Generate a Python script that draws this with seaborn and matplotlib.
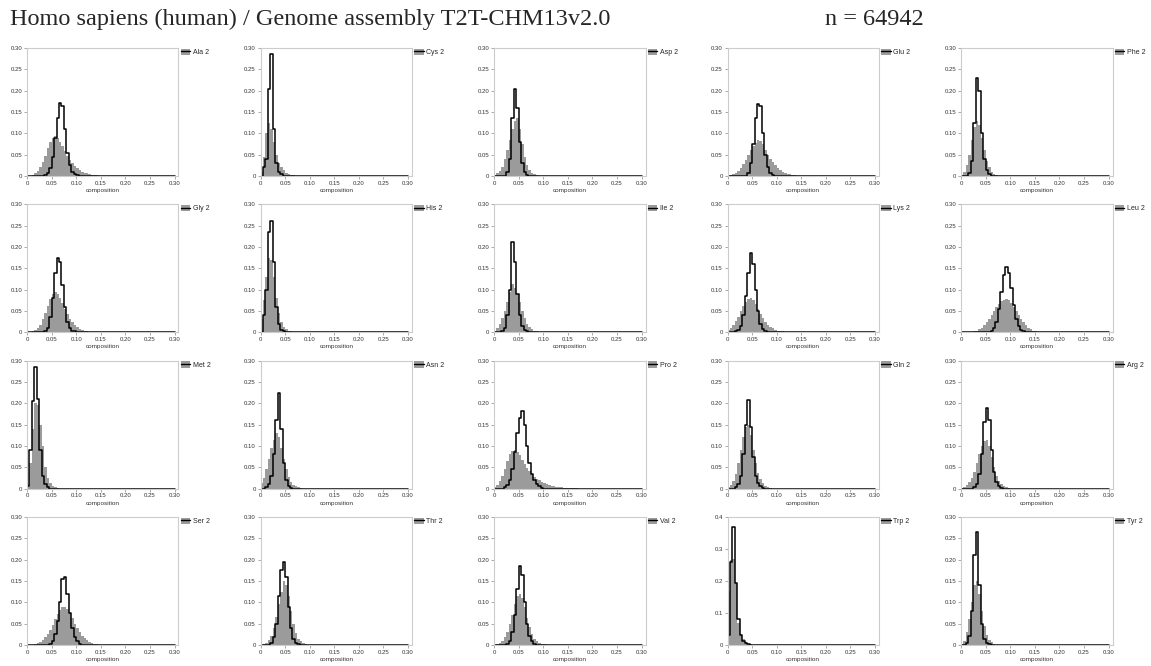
import numpy as np
import pandas as pd
import seaborn as sns
import matplotlib.pyplot as plt
from matplotlib.patches import Patch
from matplotlib.lines import Line2D
from matplotlib.ticker import FuncFormatter

# residue panels, row by row
residues = ["Ala", "Cys", "Asp", "Glu", "Phe",
            "Gly", "His", "Ile", "Lys", "Leu",
            "Met", "Asn", "Pro", "Gln", "Arg",
            "Ser", "Thr", "Val", "Trp", "Tyr"]
bin_width = 0.005

# per-bin fractions (grey = filled, black = outline), bins start at 0
ala_grey = [0, 0.001, 0.003, 0.006, 0.012, 0.02, 0.032, 0.047, 0.065, 0.08, 0.09, 0.093, 0.088, 0.08, 0.07,
            0.058, 0.047, 0.037, 0.03, 0.024, 0.018, 0.014, 0.01, 0.008, 0.006, 0.004, 0.003, 0.002, 0.0015, 0.001, 0.001]
ala_black = [0] * 7 + [0.002, 0.006, 0.018, 0.045, 0.09, 0.135, 0.17, 0.165, 0.11, 0.055, 0.025, 0.01, 0.004, 0.002]
cys_grey = [0.01, 0.045, 0.1, 0.125, 0.11, 0.08, 0.05, 0.03, 0.02, 0.013, 0.008, 0.005, 0.003, 0.002, 0.001]
cys_black = [0, 0.02, 0.04, 0.205, 0.285, 0.11, 0.03, 0.01, 0.004, 0.001]
asp_grey = [0.003, 0.006, 0.012, 0.022, 0.04, 0.06, 0.085, 0.11, 0.13, 0.135, 0.11, 0.075, 0.045, 0.025, 0.013,
            0.007, 0.004, 0.002]
asp_black = [0] * 5 + [0.01, 0.04, 0.135, 0.205, 0.16, 0.08, 0.03, 0.01, 0.003]
glu_grey = [0, 0.002, 0.004, 0.007, 0.012, 0.018, 0.027, 0.037, 0.05, 0.06, 0.07, 0.078, 0.085, 0.083, 0.075,
            0.062, 0.05, 0.04, 0.032, 0.025, 0.019, 0.014, 0.01, 0.007, 0.005, 0.004, 0.003, 0.002, 0.001]
glu_black = [0] * 8 + [0.008, 0.03, 0.075, 0.135, 0.168, 0.165, 0.1, 0.05, 0.02, 0.008, 0.003]
phe_grey = [0.003, 0.01, 0.025, 0.05, 0.085, 0.115, 0.13, 0.12, 0.09, 0.06, 0.035, 0.02, 0.01, 0.005, 0.002]
phe_black = [0, 0, 0, 0.008, 0.035, 0.125, 0.23, 0.2, 0.1, 0.04, 0.013, 0.004]

gly_grey = [0, 0, 0.002, 0.005, 0.01, 0.018, 0.03, 0.045, 0.062, 0.078, 0.09, 0.095, 0.09, 0.08, 0.068, 0.055,
            0.042, 0.032, 0.024, 0.017, 0.012, 0.008, 0.005, 0.003, 0.002]
gly_black = [0] * 7 + [0.003, 0.01, 0.035, 0.08, 0.14, 0.175, 0.165, 0.11, 0.06, 0.025, 0.01, 0.004, 0.002]
his_grey = [0.03, 0.075, 0.13, 0.175, 0.17, 0.13, 0.08, 0.045, 0.025, 0.013, 0.007, 0.004, 0.002]
his_black = [0, 0.04, 0.1, 0.235, 0.26, 0.165, 0.06, 0.02, 0.006, 0.002]
ile_grey = [0.003, 0.01, 0.02, 0.033, 0.05, 0.07, 0.095, 0.113, 0.105, 0.09, 0.07, 0.05, 0.033, 0.02, 0.012,
            0.007, 0.004, 0.002]
ile_black = [0, 0, 0, 0.003, 0.01, 0.04, 0.1, 0.212, 0.165, 0.09, 0.04, 0.015, 0.005, 0.002]
lys_grey = [0.005, 0.01, 0.017, 0.026, 0.037, 0.05, 0.062, 0.072, 0.079, 0.08, 0.075, 0.066, 0.055, 0.044,
            0.034, 0.025, 0.018, 0.013, 0.009, 0.006, 0.004, 0.003, 0.002]
lys_black = [0] * 3 + [0.002, 0.006, 0.015, 0.04, 0.085, 0.14, 0.185, 0.16, 0.1, 0.05, 0.02, 0.008, 0.003]
leu_grey = [0] * 5 + [0.002, 0.004, 0.007, 0.011, 0.016, 0.023, 0.031, 0.04, 0.05, 0.06, 0.067, 0.073, 0.076,
                      0.078, 0.075, 0.069, 0.06, 0.05, 0.04, 0.031, 0.023, 0.016, 0.011, 0.007, 0.004, 0.002]
leu_black = [0] * 12 + [0.003, 0.01, 0.025, 0.055, 0.095, 0.135, 0.153, 0.14, 0.105, 0.065, 0.032, 0.014,
                        0.006, 0.002]

met_grey = [0.01, 0.06, 0.14, 0.2, 0.195, 0.15, 0.1, 0.05, 0.025, 0.012, 0.006, 0.003, 0.002]
met_black = [0.005, 0.09, 0.205, 0.285, 0.21, 0.09, 0.03, 0.01, 0.003]
asn_grey = [0.012, 0.025, 0.045, 0.07, 0.095, 0.115, 0.13, 0.12, 0.095, 0.07, 0.045, 0.028, 0.016, 0.009,
            0.005, 0.003, 0.002]
asn_black = [0, 0, 0.003, 0.01, 0.03, 0.08, 0.16, 0.225, 0.14, 0.06, 0.02, 0.007, 0.002]
pro_grey = [0.003, 0.008, 0.017, 0.03, 0.047, 0.065, 0.08, 0.088, 0.09, 0.085, 0.078, 0.068, 0.058, 0.049,
            0.041, 0.034, 0.028, 0.023, 0.019, 0.015, 0.012, 0.01, 0.008, 0.006, 0.005, 0.004, 0.003, 0.003,
            0.002, 0.002, 0.001, 0.001, 0.001, 0.001]
pro_black = [0] * 4 + [0.003, 0.008, 0.02, 0.045, 0.085, 0.13, 0.165, 0.182, 0.15, 0.1, 0.06, 0.035, 0.02,
                       0.01, 0.005, 0.002]
gln_grey = [0.003, 0.008, 0.018, 0.035, 0.06, 0.09, 0.12, 0.145, 0.15, 0.125, 0.09, 0.06, 0.037, 0.022,
            0.013, 0.007, 0.004, 0.002]
gln_black = [0] * 3 + [0.003, 0.01, 0.03, 0.08, 0.15, 0.208, 0.145, 0.075, 0.03, 0.012, 0.005, 0.002]
arg_grey = [0.002, 0.004, 0.008, 0.015, 0.025, 0.04, 0.06, 0.08, 0.1, 0.112, 0.115, 0.1, 0.075, 0.05, 0.03,
            0.018, 0.01, 0.006, 0.003, 0.002]
arg_black = [0] * 5 + [0.003, 0.01, 0.035, 0.08, 0.155, 0.19, 0.16, 0.09, 0.04, 0.015, 0.005, 0.002]

ser_grey = [0] * 3 + [0.002, 0.004, 0.007, 0.012, 0.018, 0.026, 0.036, 0.047, 0.06, 0.072, 0.082, 0.088, 0.09,
                      0.085, 0.075, 0.062, 0.05, 0.039, 0.03, 0.022, 0.016, 0.011, 0.007, 0.005, 0.003, 0.002]
ser_black = [0] * 9 + [0.003, 0.01, 0.025, 0.055, 0.1, 0.155, 0.158, 0.12, 0.075, 0.04, 0.018, 0.008, 0.003]
thr_grey = [0, 0.002, 0.005, 0.011, 0.022, 0.04, 0.065, 0.095, 0.125, 0.15, 0.14, 0.115, 0.08, 0.05, 0.028,
            0.015, 0.008, 0.004, 0.002]
thr_black = [0] * 4 + [0.005, 0.018, 0.05, 0.115, 0.175, 0.195, 0.16, 0.09, 0.04, 0.015, 0.005, 0.002]
val_grey = [0, 0.002, 0.005, 0.01, 0.018, 0.03, 0.048, 0.07, 0.095, 0.115, 0.12, 0.11, 0.088, 0.063, 0.042,
            0.026, 0.015, 0.009, 0.005, 0.003, 0.002]
val_black = [0] * 5 + [0.003, 0.01, 0.03, 0.07, 0.13, 0.185, 0.165, 0.1, 0.05, 0.02, 0.008, 0.003]
trp_grey = [0.17, 0.265, 0.27, 0.195, 0.07, 0.035, 0.017, 0.008, 0.004, 0.002]
trp_black = [0.03, 0.26, 0.37, 0.195, 0.08, 0.03, 0.012, 0.005, 0.002]
tyr_grey = [0.003, 0.01, 0.03, 0.06, 0.1, 0.14, 0.15, 0.12, 0.08, 0.045, 0.024, 0.012, 0.006, 0.003]
tyr_black = [0, 0, 0.005, 0.02, 0.08, 0.21, 0.265, 0.14, 0.05, 0.015, 0.005, 0.002]

grey_series = [ala_grey, cys_grey, asp_grey, glu_grey, phe_grey,
               gly_grey, his_grey, ile_grey, lys_grey, leu_grey,
               met_grey, asn_grey, pro_grey, gln_grey, arg_grey,
               ser_grey, thr_grey, val_grey, trp_grey, tyr_grey]
black_series = [ala_black, cys_black, asp_black, glu_black, phe_black,
                gly_black, his_black, ile_black, lys_black, leu_black,
                met_black, asn_black, pro_black, gln_black, arg_black,
                ser_black, thr_black, val_black, trp_black, tyr_black]

title = "Homo sapiens (human) / Genome assembly T2T-CHM13v2.0"
n_label = "n = 64942"


def draw_panels():
    sns.set_theme(style="white")
    plt.rcParams['font.family'] = ['Liberation Sans', 'DejaVu Sans']

    W, H = 1151, 666
    fig = plt.figure(figsize=(W / 100, H / 100), dpi=100)

    n_bins = 60
    centers = (np.arange(n_bins) + 0.5) * bin_width
    grey = '#9b9b9b'

    for k, name in enumerate(residues):
        r, c = divmod(k, 5)
        left = 27 + 233.5 * c
        top = 48 + 156.3 * r
        ax = fig.add_axes([left / W, 1 - (top + 128) / H, 151.5 / W, 128 / H])

        df = pd.DataFrame({
            'composition': centers,
            'grey': np.pad(grey_series[k], (0, n_bins - len(grey_series[k]))),
            'black': np.pad(black_series[k], (0, n_bins - len(black_series[k]))),
        })

        sns.histplot(data=df, x='composition', weights='grey', bins=n_bins, binrange=(0, 0.3), ax=ax,
                     element="bars", fill=True, color=grey, alpha=1, linewidth=0)
        sns.histplot(data=df, x='composition', weights='black', bins=n_bins, binrange=(0, 0.3), ax=ax,
                     element="step", fill=False, color='black', linewidth=1.1)

        ymax = 0.4 if name == "Trp" else 0.30
        ystep = 0.1 if name == "Trp" else 0.05
        fmt = '{:.1f}' if name == "Trp" else '{:.2f}'
        ax.set_xlim(0, 0.308)
        ax.set_ylim(0, ymax)
        ax.set_xticks(np.arange(0, 0.301, 0.05))
        ax.set_yticks(np.arange(0, ymax + 1e-9, ystep))
        ax.xaxis.set_major_formatter(FuncFormatter(lambda v, p: '0' if abs(v) < 1e-9 else f'{v:.2f}'))
        ax.yaxis.set_major_formatter(FuncFormatter(lambda v, p, f=fmt: '0' if abs(v) < 1e-9 else f.format(v)))
        ax.tick_params(axis='both', labelsize=4.3, length=2, width=0.5, color='#888888',
                       labelcolor='#333333', pad=1.5, bottom=True, left=True)
        ax.set_xlabel('composition', fontsize=4.6, labelpad=1.5, color='#333333')
        ax.set_ylabel('')
        for s in ax.spines.values():
            s.set_color('#cccccc')
            s.set_linewidth(0.8)

        handle = (Patch(facecolor=grey, edgecolor='none'), Line2D([], [], color='black', linewidth=1.0))
        ax.legend([handle], [f'{name} 2'], loc='upper left', bbox_to_anchor=(1.01, 1.0),
                  borderaxespad=0, borderpad=0.1, frameon=False, fontsize=5,
                  handlelength=1.4, handleheight=1.0, handletextpad=0.35)

    # header line in a serif face, as in the original page
    fig.text(10 / W, 1 - 25 / H, title, family='Liberation Serif', fontsize=17.5, va='baseline', ha='left')
    fig.text(825 / W, 1 - 25 / H, n_label, family='Liberation Serif', fontsize=17.5, va='baseline', ha='left')

    fig.savefig('out.png', dpi=100)
    plt.close(fig)


if __name__ == "__main__":
    draw_panels()
